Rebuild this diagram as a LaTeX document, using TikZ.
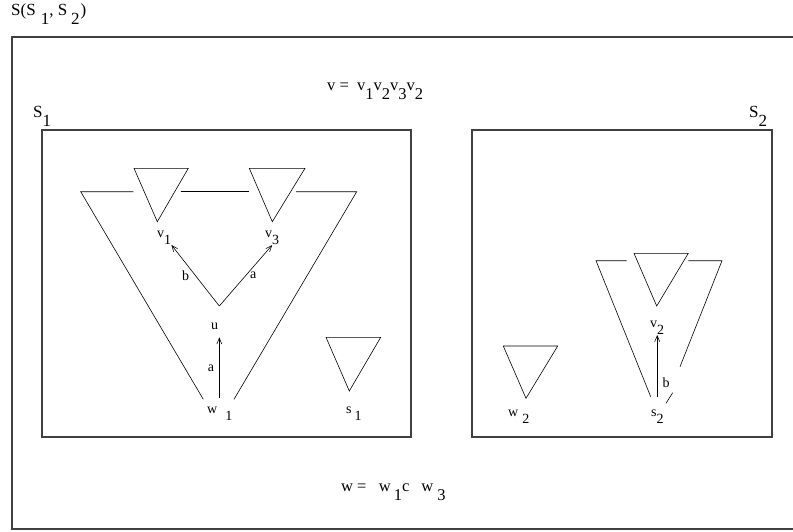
\documentclass[tikz,border=0pt]{standalone}
\usepackage{fontspec}
\setmainfont{Liberation Serif}
\usetikzlibrary{arrows.meta,positioning}
\newcommand{\low}[1]{\raisebox{-0.55em}{#1}}

\begin{document}
\begin{tikzpicture}[
    x=1pt, y=-1pt,
    >={Straight Barb[length=6pt,width=5pt]},
    box/.style={draw=black!75,line width=1.1pt},
    tri/.style={draw,line width=0.6pt,line join=miter},
    arr/.style={->,line width=0.6pt},
    lbl/.style={inner sep=0pt,anchor=base west,font=\fontsize{14}{16}\selectfont},
    word/.style={lbl,font=\fontsize{16.5}{18}\selectfont},
    big/.style={lbl,font=\fontsize{17}{19}\selectfont},
    tag/.style={inner sep=1pt,font=\fontsize{14}{16}\selectfont}
]
\useasboundingbox (0,0) rectangle (793,531);

%------------------------------------------------
% Frames
%------------------------------------------------
\draw[box] (793,37) -- (12,37) -- (12,529) -- (793,529);
\draw[box] (42,130) rectangle (411,437);
\draw[box] (472,130) rectangle (772,437);

\node[big] (title) at (11,15) {S(S\hspace{5pt}\low{1}, S\hspace{4pt}\low{2}\hspace{1pt})};
\node[big] (S1lbl) at (33,117) {S\low{1}};
\node[big] (S2lbl) at (749,117) {S\low{2}};
\node[word] (vword) at (327,90) {v =\ \ v\low{1}v\low{2}v\low{3}v\low{2}};
\node[word] (wword) at (341,491) {w =\ \ \ w\hspace{3pt}\low{1}c\hspace{12pt}w\hspace{4pt}\low{3}};

%------------------------------------------------
% Triangles
%------------------------------------------------
\foreach \xa/\xb/\ya/\xc/\yc in {
134/188.3/168.3/157.3/221.7,
249.3/305/168.3/272.3/221.7,
326/380.7/337.3/349.3/391,
503.3/557.7/346/526/398.3,
634/688.3/253.3/656.7/306}
{
    \draw[tri] (\xa,\ya) -- (\xb,\ya) -- (\xc,\yc) -- cycle;
}

% open outlines
\draw[tri] (133.3,191.7) -- (80.7,191.7) -- (203.3,399.3);
\draw[tri] (180.7,191.7) -- (249.3,191.7);
\draw[tri] (296,191.7) -- (356.7,191.7) -- (234,399.3);
\draw[tri] (626.7,260.7) -- (596,260.7) -- (650.7,396.7);
\draw[tri] (688.3,260.7) -- (722,260.7) -- (680,366.7);
\draw[tri] (672.7,392.7) -- (666,403.3);

%------------------------------------------------
% Labels
%------------------------------------------------
\node[lbl] (v1) at (157,237) {v\low{1}};
\node[lbl] (v3) at (265,237) {v\low{3}};
\node[lbl] (u) at (211,329) {u};
\node[lbl] (w1) at (207,413) {w\hspace{8pt}\low{1}};
\node[lbl] (s1) at (346,413) {s\hspace{3pt}\low{1}};
\node[lbl] (w2) at (508,416) {w\hspace{4pt}\low{2}};
\node[lbl] (s2) at (651,416) {s\low{2}};
\node[lbl] (v2) at (650,327) {v\low{2}};
\coordinate (fork) at (219.3,306);

%------------------------------------------------
% Edges
%------------------------------------------------
\draw[arr] (fork) -- node[tag,left=5pt] (lb) {b} (v1.south east);
\draw[arr] (fork) -- node[tag,right=3pt] (la) {a} (v3.south);
\draw[arr,shorten <=8pt,shorten >=8pt] (w1.north -| fork) -- node[tag,left=4pt] (lwa) {a} (u.south -| fork);
\draw[arr,shorten <=12pt] (s2.north -| v2.south) -- node[tag,right=4pt,pos=0.35] (lsb) {b} (v2.south);

\end{tikzpicture}
\end{document}
